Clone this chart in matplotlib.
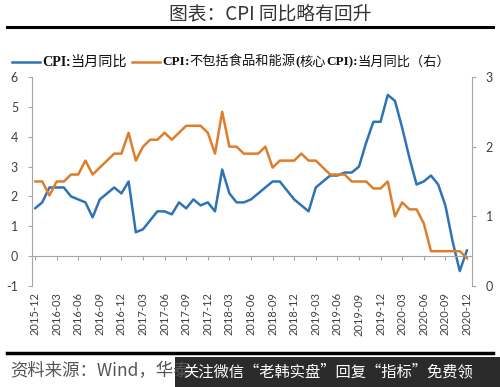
import numpy as np
import pandas as pd
import matplotlib
matplotlib.use("Agg")
import matplotlib.pyplot as plt
from matplotlib.transforms import blended_transform_factory

# -------------------------- DATA ----------------------------
months = [p.strftime("%Y-%m") for p in pd.period_range("2015-12", "2020-12", freq="M")]

# CPI: 当月同比 (left axis, %)
cpi = [1.6,
       1.8, 2.3, 2.3, 2.3, 2.0, 1.9, 1.8, 1.3, 1.9, 2.1, 2.3, 2.1,
       2.5, 0.8, 0.9, 1.2, 1.5, 1.5, 1.4, 1.8, 1.6, 1.9, 1.7, 1.8,
       1.5, 2.9, 2.1, 1.8, 1.8, 1.9, 2.1, 2.3, 2.5, 2.5, 2.2, 1.9,
       1.7, 1.5, 2.3, 2.5, 2.7, 2.7, 2.8, 2.8, 3.0, 3.8, 4.5, 4.5,
       5.4, 5.2, 4.3, 3.3, 2.4, 2.5, 2.7, 2.4, 1.7, 0.5, -0.5, 0.2]

# 核心CPI: 当月同比 (right axis, %)
core_cpi = [1.5,
            1.5, 1.3, 1.5, 1.5, 1.6, 1.6, 1.8, 1.6, 1.7, 1.8, 1.9, 1.9,
            2.2, 1.8, 2.0, 2.1, 2.1, 2.2, 2.1, 2.2, 2.3, 2.3, 2.3, 2.2,
            1.9, 2.5, 2.0, 2.0, 1.9, 1.9, 1.9, 2.0, 1.7, 1.8, 1.8, 1.8,
            1.9, 1.8, 1.8, 1.7, 1.6, 1.6, 1.6, 1.5, 1.5, 1.5, 1.4, 1.4,
            1.5, 1.0, 1.2, 1.1, 1.1, 0.9, 0.5, 0.5, 0.5, 0.5, 0.5, 0.4]

left_ticks = [-1, 0, 1, 2, 3, 4, 5, 6]
right_ticks = [0, 1, 2, 3]
tick_idx = list(range(0, len(months), 3))

# -------------------------- SETTINGS ----------------------------
W, H, DPI = 500, 387, 100
BLUE = "#2E74B5"
ORANGE = "#DE7D2C"
GRAY = "#A6A6A6"
CJK = ["Noto Sans CJK SC", "DejaVu Sans"]
SERIF = ["Liberation Serif", "Noto Sans CJK SC"]
NUM = ["Lato", "DejaVu Sans"]


def fx(px):
    return px / W


def fy(py):
    return 1 - py / H


fig = plt.figure(figsize=(W / DPI, H / DPI), dpi=DPI)
fig.patch.set_facecolor("white")

# title + rule
fig.text(0.54, fy(14), "图表：CPI 同比略有回升", ha="center", va="center",
         fontsize=13.5, color="#333333", family=CJK)
fig.add_artist(plt.Line2D([fx(7), fx(493)], [fy(27), fy(27)], color="black", lw=2.2))

# --------------------------- AXES ---------------------------
ax = fig.add_axes([fx(32), fy(286), fx(472 - 32), (286 - 77) / H])
x = np.arange(len(months))
ax.plot(x, cpi, color=BLUE, lw=1.8, solid_joinstyle="round", solid_capstyle="round")
ax.set_xlim(-0.42, 60.7)
ax.set_ylim(-1, 6)
ax.set_yticks(left_ticks)
ax.set_yticklabels([str(t) for t in left_ticks], family=NUM, fontsize=9, color="#404040")
ax.set_xticks(tick_idx)
ax.tick_params(axis="x", direction="out", length=3, color=GRAY, labelbottom=False)
ax.tick_params(axis="y", direction="out", length=3, color=GRAY, pad=7)
for s in ["top", "right"]:
    ax.spines[s].set_visible(False)
ax.spines["left"].set_color(GRAY)
ax.spines["bottom"].set_color(GRAY)
ax.spines["bottom"].set_position(("data", 0))

ax2 = ax.twinx()
ax2.plot(x, core_cpi, color=ORANGE, lw=1.8, solid_joinstyle="round", solid_capstyle="round")
ax2.set_ylim(0, 3)
ax2.set_yticks(right_ticks)
ax2.set_yticklabels([str(t) for t in right_ticks], family=NUM, fontsize=9, color="#404040")
ax2.tick_params(axis="y", direction="out", length=3, color=GRAY, pad=7)
for s in ["top", "left", "bottom"]:
    ax2.spines[s].set_visible(False)
ax2.spines["right"].set_color(GRAY)

# x labels at the bottom of the plot area
trans = blended_transform_factory(ax.transData, ax.transAxes)
for i in tick_idx:
    ax.text(i, -0.03, months[i], transform=trans, rotation=90, ha="center", va="top",
            fontsize=8, family=NUM, color="#404040")

# --------------------------- LEGEND ---------------------------
renderer = fig.canvas.get_renderer()
ly = fy(62)


def put_pieces(xpx, pieces, size=9.5):
    cur = fx(xpx)
    for txt, bold in pieces:
        t = fig.text(cur, ly, txt, ha="left", va="center", fontsize=size,
                     family=SERIF if bold else CJK,
                     weight="bold" if bold else "normal", color="#111111")
        bb = t.get_window_extent(renderer)
        cur = bb.x1 / W
    return cur * W


fig.add_artist(plt.Line2D([fx(12), fx(40)], [ly, ly], color=BLUE, lw=1.8))
end1 = put_pieces(42, [("CPI", True), (":", True), ("当月同比", False)], size=10.2)
fig.add_artist(plt.Line2D([fx(end1 + 5), fx(end1 + 33)], [ly, ly], color=ORANGE, lw=1.8))
put_pieces(end1 + 35, [("CPI", True), (":", True), ("不包括食品和能源", False), ("(", True),
                       ("核心", False), ("CPI):", True), ("当月同比（右）", False)])

# --------------------------- FOOTER ---------------------------
fig.add_artist(plt.Line2D([fx(7), fx(493)], [fy(353), fy(353)], color="black", lw=2.5))
fig.text(fx(10), fy(371), "资料来源：Wind，华泰", ha="left", va="center",
         fontsize=12.5, color="#555555", family=CJK)
fig.add_artist(plt.Rectangle((fx(175), 0), fx(325), fy(357), transform=fig.transFigure,
                             facecolor="#2B2B2B", edgecolor="none"))
fig.text(fx(183), fy(372), "关注微信“老韩实盘”回复“指标”免费领", ha="left", va="center",
         fontsize=11, color="white", family=CJK)

fig.savefig("out.png", dpi=DPI)
